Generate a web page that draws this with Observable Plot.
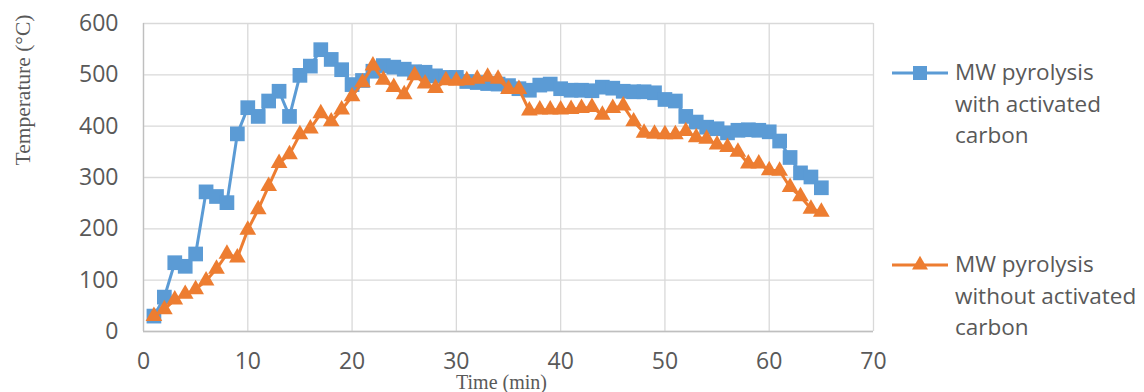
<!DOCTYPE html>
<html>
<head>
<meta charset="utf-8">
<script src="https://cdn.jsdelivr.net/npm/d3@7"></script>
<script src="https://cdn.jsdelivr.net/npm/@observablehq/plot@0.6"></script>
<style>
  html, body { margin: 0; padding: 0; background: #fff; }
  #wrap { position: relative; width: 1144px; height: 392px; overflow: hidden; background: #fff; }
  .leg { position: absolute; font-family: "Open Sans", sans-serif; font-size: 22.5px; line-height: 31.7px; color: #595959; }
  .sym { position: absolute; }
</style>
</head>
<body>
<div id="wrap"></div>
<script>
// ---- data ----
const minutes = [1,2,3,4,5,6,7,8,9,10,11,12,13,14,15,16,17,18,19,20,21,22,23,24,25,26,27,28,29,30,31,32,33,34,35,36,37,38,39,40,41,42,43,44,45,46,47,48,49,50,51,52,53,54,55,56,57,58,59,60,61,62,63,64,65];
const withActivatedCarbon = [30,67,134,127,151,272,263,251,385,436,419,449,468,419,499,517,549,530,510,481,489,507,518,515,511,506,505,498,495,495,487,485,483,482,479,473,470,480,482,473,470,470,469,476,474,468,467,467,465,452,449,419,408,398,395,387,392,393,392,389,371,339,309,301,280];
const withoutActivatedCarbon = [30,43,62,73,82,99,122,151,144,198,238,283,328,345,384,395,425,409,432,458,485,518,490,476,462,499,483,474,489,488,489,492,496,492,472,472,430,432,432,432,433,435,437,422,435,440,409,387,385,384,384,390,378,375,364,359,350,327,327,314,313,281,263,239,233];
const xTicks = [0,10,20,30,40,50,60,70];
const yTicks = [0,100,200,300,400,500,600];
const seriesNames = ["MW pyrolysis\nwith activated\ncarbon", "MW pyrolysis\nwithout activated\ncarbon"];
const colors = ["#5B9BD5", "#ED7D31"];

const rowsA = minutes.map((m, i) => ({m, t: withActivatedCarbon[i]}));
const rowsB = minutes.map((m, i) => ({m, t: withoutActivatedCarbon[i]}));

const gridStyle = {stroke: "#d9d9d9", strokeOpacity: 1, strokeWidth: 1.3};

const chart = Plot.plot({
  width: 1144,
  height: 392,
  marginLeft: 143,
  marginRight: 271,
  marginTop: 23,
  marginBottom: 61,
  x: {domain: [0, 70]},
  y: {domain: [0, 600]},
  style: {fontFamily: "'Open Sans', sans-serif", color: "#595959", background: "transparent", overflow: "visible"},
  marks: [
    Plot.gridX(xTicks, gridStyle),
    Plot.gridY(yTicks, gridStyle),
    Plot.ruleY([yTicks[0]], {stroke: "#bfbfbf", strokeWidth: 1.3}),
    Plot.ruleX([xTicks[0]], {stroke: "#bfbfbf", strokeWidth: 1.3}),
    Plot.axisX({ticks: xTicks, tickSize: 0, tickPadding: 21, fontSize: 23, label: null, fill: "#595959"}),
    Plot.axisY({ticks: yTicks, tickSize: 0, tickPadding: 25, fontSize: 23, label: null, fill: "#595959"}),
    Plot.line(rowsA, {x: "m", y: "t", stroke: colors[0], strokeWidth: 3}),
    Plot.dot(rowsA, {x: "m", y: "t", symbol: "square", r: 8.3, fill: colors[0], stroke: "none"}),
    Plot.line(rowsB, {x: "m", y: "t", stroke: colors[1], strokeWidth: 3}),
    Plot.dot(rowsB, {x: "m", y: "t", symbol: "triangle", r: 6.2, fill: colors[1], stroke: "none"}),
    Plot.text(["Time (min)"], {text: d => d, frameAnchor: "bottom", dy: 57, dx: -7, lineAnchor: "bottom",
      fontFamily: "'Liberation Serif', serif", fontSize: 20, fill: "#595959"}),
    Plot.text(["Temperature (°C)"], {text: d => d, frameAnchor: "left", rotate: -90, dx: -120, dy: -12,
      fontFamily: "'Liberation Serif', serif", fontSize: 21.5, fill: "#595959"})
  ]
});

const wrap = document.getElementById("wrap");
chart.style.position = "absolute";
chart.style.left = "0px";
chart.style.top = "0px";
wrap.appendChild(chart);

// legend
const legendTops = [56, 248];
const symbols = ["square", "triangle"];
seriesNames.forEach((name, i) => {
  const s = document.createElementNS("http://www.w3.org/2000/svg", "svg");
  s.setAttribute("width", 60);
  s.setAttribute("height", 30);
  s.setAttribute("class", "sym");
  s.style.left = "890px";
  s.style.top = (legendTops[i] + 2) + "px";
  const ln = document.createElementNS("http://www.w3.org/2000/svg", "line");
  ln.setAttribute("x1", 2); ln.setAttribute("x2", 58);
  ln.setAttribute("y1", 15); ln.setAttribute("y2", 15);
  ln.setAttribute("stroke", colors[i]); ln.setAttribute("stroke-width", 3);
  s.appendChild(ln);
  const p = document.createElementNS("http://www.w3.org/2000/svg", "path");
  p.setAttribute("d", d3.symbol(symbols[i] === "square" ? d3.symbolSquare : d3.symbolTriangle, symbols[i] === "square" ? 196 : 110)());
  p.setAttribute("transform", "translate(30,15)");
  p.setAttribute("fill", colors[i]);
  s.appendChild(p);
  wrap.appendChild(s);
  const t = document.createElement("div");
  t.className = "leg";
  t.style.left = "955px";
  t.style.top = legendTops[i] + "px";
  t.innerHTML = name.split("\n").join("<br>");
  wrap.appendChild(t);
});
</script>
</body>
</html>
